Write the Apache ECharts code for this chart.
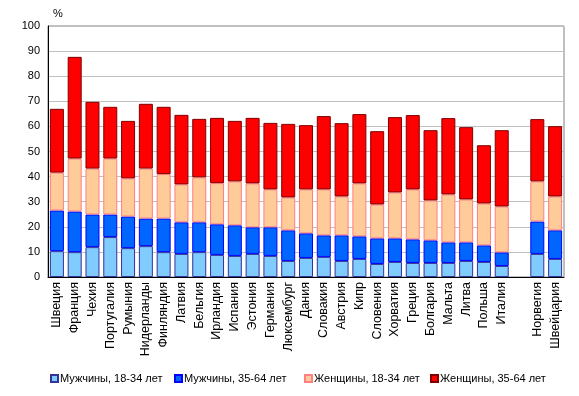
<!DOCTYPE html>
<html>
<head>
<meta charset="utf-8">
<script src="https://cdn.jsdelivr.net/npm/echarts@6/dist/echarts.min.js"></script>
<style>
html,body{margin:0;padding:0;background:#fff;}
#chart{width:579px;height:396px;}
</style>
</head>
<body>
<div id="chart"></div>
<script>
// страны (пустая строка - разрыв перед Норвегией)
var countries = ['Швеция','Франция','Чехия','Португалия','Румыния','Нидерланды','Финляндия','Латвия','Бельгия','Ирландия','Испания','Эстония','Германия','Люксембург','Дания','Словакия','Австрия','Кипр','Словения','Хорватия','Греция','Болгария','Мальта','Литва','Польша','Италия','','Норвегия','Швейцария'];
var men18 = [10.3,9.9,11.9,15.9,11.5,12.3,9.9,9.2,9.9,8.8,8.4,9.2,8.4,6.4,7.6,8.0,6.4,7.2,5.2,6.0,5.6,5.6,5.6,6.4,6.0,4.4,'-',9.2,7.2];
var men35 = [16.2,16.2,13.0,9.0,12.6,11.0,13.4,12.6,11.9,12.2,12.2,10.6,11.4,12.2,9.8,8.6,10.2,9.0,10.2,9.4,9.4,9.0,8.2,7.4,6.6,5.4,'-',12.9,11.4];
var women18 = [15.1,21.1,18.3,22.3,15.2,19.9,17.7,15.1,17.9,16.4,17.5,17.5,15.1,13.1,17.5,18.3,15.5,21.1,13.5,18.3,19.9,15.9,19.1,17.1,16.7,18.3,'-',16.0,13.5];
var women35 = [25.4,40.5,26.6,20.6,22.9,25.8,26.8,27.7,23.3,26.0,24.1,26.1,26.5,29.3,25.6,29.2,29.2,27.6,29.2,30.0,29.6,28.0,30.4,28.8,23.2,30.4,'-',24.8,28.0];
var seriesNames = ['Мужчины, 18-34 лет','Мужчины, 35-64 лет','Женщины, 18-34 лет','Женщины, 35-64 лет'];

var fills = ['#80ccff','#0066ff','#ffcc99','#ff0000'];
var borders = ['#333399','#0000ff','#ff8080','#800000'];
var values = [men18, men35, women18, women35];
var legendLeft = [50, 174, 304, 430];

var myChart = echarts.init(document.getElementById('chart'));
var font = 'Liberation Sans, Arial, sans-serif';

var series = seriesNames.map(function(name, i){
    return {
        name: name,
        type: 'bar',
        stack: 'all',
        data: values[i],
        barWidth: 14,
        itemStyle: {color: fills[i], borderColor: borders[i], borderWidth: 1},
        emphasis: {disabled: true}
    };
});

// отдельная легенда для каждого ряда, чтобы выставить позиции
var legends = seriesNames.map(function(name, i){
    return {
        bottom: 12,
        left: legendLeft[i],
        icon: 'rect',
        itemWidth: 7,
        itemHeight: 7,
        padding: 0,
        textStyle: {fontSize: 11, color: '#000', fontFamily: font, padding: [0,0,0,-3]},
        data: [name]
    };
});

myChart.setOption({
    animation: false,
    textStyle: {fontFamily: font},
    grid: {left: 48, right: 15, top: 26, bottom: 119, show: true, borderColor: '#808080', borderWidth: 1, containLabel: false},
    legend: legends,
    xAxis: {
        type: 'category',
        data: countries,
        axisTick: {show: false},
        axisLine: {lineStyle: {color: '#000', width: 1}},
        axisLabel: {rotate: 90, interval: 0, fontSize: 12.5, color: '#000', margin: 5, fontFamily: font, align: 'right', verticalAlign: 'middle'}
    },
    yAxis: {
        type: 'value',
        min: 0,
        max: 100,
        interval: 10,
        name: '%',
        nameGap: 7,
        nameTextStyle: {fontSize: 11, color: '#000', align: 'left', padding: [0,0,0,5]},
        axisLine: {show: true, lineStyle: {color: '#000', width: 1}},
        axisTick: {show: false},
        axisLabel: {fontSize: 11, color: '#000', margin: 8, fontFamily: font},
        splitLine: {lineStyle: {color: '#c0c0c0', width: 1}}
    },
    series: series
});
</script>
</body>
</html>
